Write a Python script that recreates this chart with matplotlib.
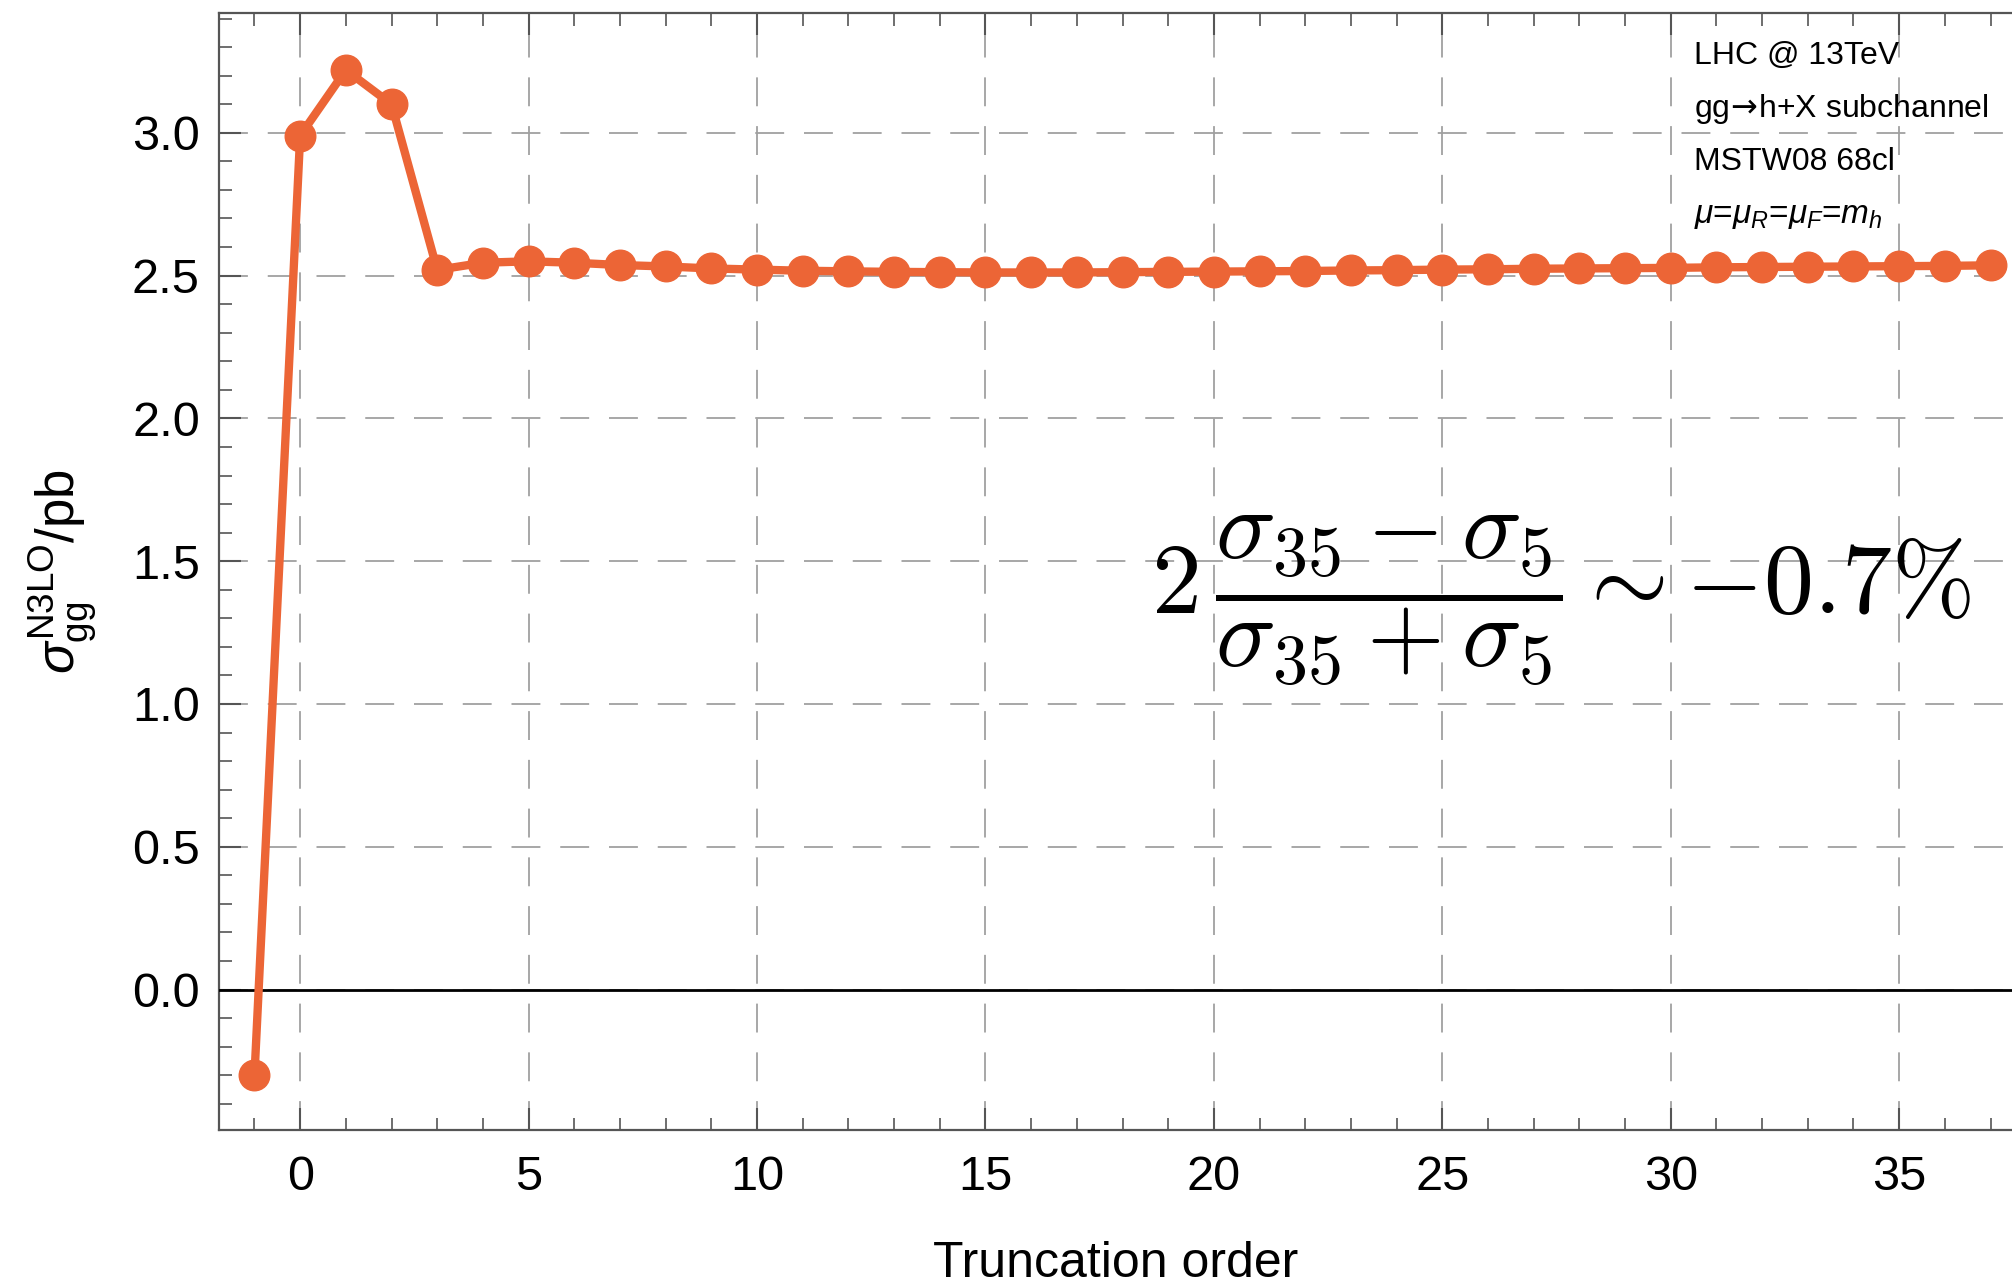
import matplotlib
matplotlib.use("Agg")
import matplotlib.pyplot as plt
from matplotlib.ticker import MultipleLocator, FormatStrFormatter

plt.rcParams['font.family'] = ['Liberation Sans', 'DejaVu Sans']
plt.rcParams['mathtext.fontset'] = 'custom'
plt.rcParams['mathtext.rm'] = 'Liberation Sans'
plt.rcParams['mathtext.it'] = 'Liberation Sans:italic'
plt.rcParams['mathtext.bf'] = 'Liberation Sans:bold'

# truncation order vs gg-channel N3LO cross section (pb)
orders = list(range(-1, 38))
sigma = [-0.30, 2.99, 3.22, 3.10, 2.52, 2.545, 2.55, 2.545, 2.537, 2.532,
         2.525, 2.521, 2.517, 2.515, 2.513, 2.512, 2.511, 2.511, 2.511, 2.512,
         2.513, 2.514, 2.515, 2.516, 2.518, 2.519, 2.521, 2.522, 2.524, 2.525,
         2.526, 2.527, 2.529, 2.530, 2.531, 2.532, 2.533, 2.534, 2.536]

info_lines = ['LHC @ 13TeV', r'gg$\!\rightarrow\!$h+X subchannel', 'MSTW08 68cl',
              r'$\mu$=$\mu_R$=$\mu_F$=$m_h$']

orange = '#EC6536'
spine_col = '#555555'

fig = plt.figure(figsize=(20.12, 12.85), dpi=100)
ax = fig.add_axes([0.109, 0.121, 0.891, 0.869])

ax.plot(orders, sigma, '-o', color=orange, lw=6, ms=22, zorder=5, clip_on=False)
ax.axhline(0, color='black', lw=2, zorder=3)

ax.set_xlim(-1.77, 37.47)
ax.set_ylim(-0.49, 3.42)

ax.xaxis.set_major_locator(MultipleLocator(5))
ax.xaxis.set_minor_locator(MultipleLocator(1))
ax.yaxis.set_major_locator(MultipleLocator(0.5))
ax.yaxis.set_minor_locator(MultipleLocator(0.1))
ax.yaxis.set_major_formatter(FormatStrFormatter('%.1f'))

ax.grid(True, which='major', color='#a0a0a0', lw=1.3, ls=(0, (16, 11)), zorder=1)

ax.tick_params(which='both', direction='in', top=True, right=False,
               color=spine_col, labelsize=35)
ax.tick_params(axis='x', pad=18)
ax.tick_params(axis='y', pad=14)
ax.tick_params(which='major', length=16, width=1.5)
ax.tick_params(which='minor', length=9, width=1.2)
for s in ['left', 'bottom', 'top']:
    ax.spines[s].set_color(spine_col)
    ax.spines[s].set_linewidth(1.6)
ax.spines['right'].set_visible(False)

ax.set_xlabel('Truncation order', fontsize=36, labelpad=30)
ax.set_ylabel(r'$\sigma^{\mathrm{N3LO}}_{\mathrm{gg}}$/pb', fontsize=38, labelpad=24)

for i, line in enumerate(info_lines):
    fs = 24 if i == 3 else 23
    ax.text(30.5, 3.27 - i * 0.186, line, fontsize=fs, va='center', ha='left',
            math_fontfamily='dejavusans' if i == 1 else None)

ax.text(27.6, 1.36, r'$2\,\dfrac{\sigma_{35}-\sigma_5}{\sigma_{35}+\sigma_5}\sim{-0.7}\%$',
        fontsize=72, ha='center', va='center', math_fontfamily='cm', zorder=6)

fig.savefig('out.png', dpi=100)
